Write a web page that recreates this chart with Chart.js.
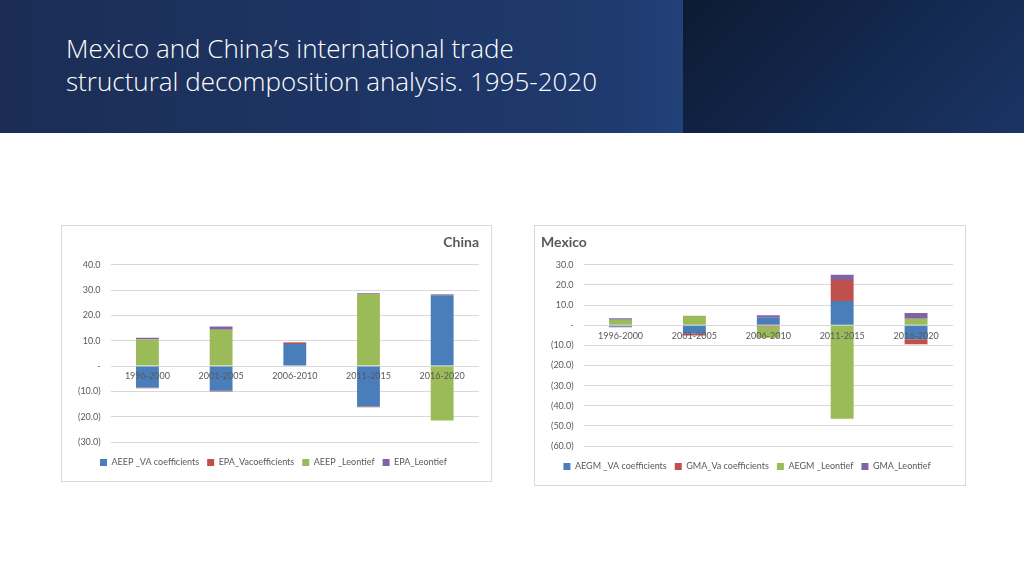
<!DOCTYPE html>
<html><head><meta charset="utf-8">
<script src="https://cdn.jsdelivr.net/npm/chart.js@4"></script>
<style>
body{margin:0;width:1024px;height:576px;background:#fff;position:relative;overflow:hidden;font-family:Lato,sans-serif}
#hdr{position:absolute;left:0;top:0;width:1024px;height:133px;background:linear-gradient(90deg,#1b2d55 0%,#1f3a6e 60%,#22427a 67%)}
#hdr2{position:absolute;left:683px;top:0;width:341px;height:133px;background:linear-gradient(135deg,#0d1a33 0%,#142a52 60%,#1a3463 100%)}
#title{position:absolute;left:66px;top:32px;color:#fff;font-size:26px;line-height:33px;font-family:"Open Sans",Lato,sans-serif;font-weight:300}
.box{position:absolute;border:1px solid #d9d9d9;background:#fff}
</style></head><body>
<div id="hdr"></div><div id="hdr2"></div>
<div id="title">Mexico and China’s international trade<br>structural decomposition analysis. 1995-2020</div>
<div class="box" style="left:61px;top:225px;width:429px;height:255px"><canvas id="c1"></canvas></div>
<div class="box" style="left:534px;top:225px;width:430px;height:259px"><canvas id="c2"></canvas></div>
<script>
const categories=["1996-2000","2001-2005","2006-2010","2011-2015","2016-2020"];
const chinaLabels=["AEEP _VA coefficients","EPA_Vacoefficients","AEEP _Leontief","EPA_Leontief"];
const chinaVA=[-8.5,-9.8,8.7,-16.0,28.0];
const chinaEPAVA=[-0.3,-0.3,0.5,-0.3,0.2];
const chinaLeon=[10.5,14.3,0,28.5,-21.5];
const chinaEPAL=[0.7,1.3,0.2,0.3,0.2];
const mexLabels=["AEGM _VA coefficients","GMA_Va coefficients","AEGM _Leontief","GMA_Leontief"];
const mexVA=[-0.8,-4.3,3.7,12.0,-7.0];
const mexGMAVA=[-0.2,-0.8,-0.7,10.5,-2.5];
const mexLeon=[2.7,4.7,-5.5,-46.5,3.2];
const mexGMAL=[0.8,0,1.2,2.6,2.8];
const colors=["#4a7ebb","#c0504d","#9bbb59","#8064a2"];
const fmt=v=>v===0?"-":(v<0?"("+Math.abs(v).toFixed(1)+")":v.toFixed(1));
const catPlugin={id:'cat',afterDatasetsDraw(ch){const x=ch.scales.x,y=ch.scales.y,c=ch.ctx;c.save();c.font="9px Lato";c.fillStyle="#595959";c.textAlign="center";c.textBaseline="top";
categories.forEach((t,i)=>c.fillText(t,x.getPixelForValue(i),y.getPixelForValue(0)+6));c.restore();}};
function make(id,labels,series,min,max,title,align,pad){
 new Chart(document.getElementById(id),{type:'bar',
 data:{labels:categories,datasets:series.map((d,i)=>({label:labels[i],data:d,backgroundColor:colors[i],barPercentage:0.31,categoryPercentage:1}))},
 options:{responsive:true,maintainAspectRatio:false,animation:false,
  layout:{padding:pad},
  plugins:{legend:{position:'bottom',labels:{boxWidth:7,boxHeight:7,font:{size:9,family:'Lato'},color:'#595959',padding:8}},
   title:{display:true,text:title,align:align,font:{size:14,weight:'bold',family:'Lato'},color:'#595959',padding:{top:0,bottom:14}},tooltip:{enabled:false}},
  scales:{x:{stacked:true,ticks:{display:false},grid:{display:false},border:{display:false}},
   y:{stacked:true,min:min,max:max,ticks:{stepSize:10,callback:fmt,font:{size:9,family:'Lato'},color:'#595959',padding:10},grid:{color:'#d9d9d9',drawTicks:false},border:{display:false}}}}
 ,plugins:[catPlugin]});
}
make('c1',chinaLabels,[chinaVA,chinaEPAVA,chinaLeon,chinaEPAL],-30,40,'China','end',{top:8,right:12,left:6,bottom:4});
make('c2',mexLabels,[mexVA,mexGMAVA,mexLeon,mexGMAL],-60,30,'Mexico','start',{top:8,right:12,left:6,bottom:4});
</script></body></html>
